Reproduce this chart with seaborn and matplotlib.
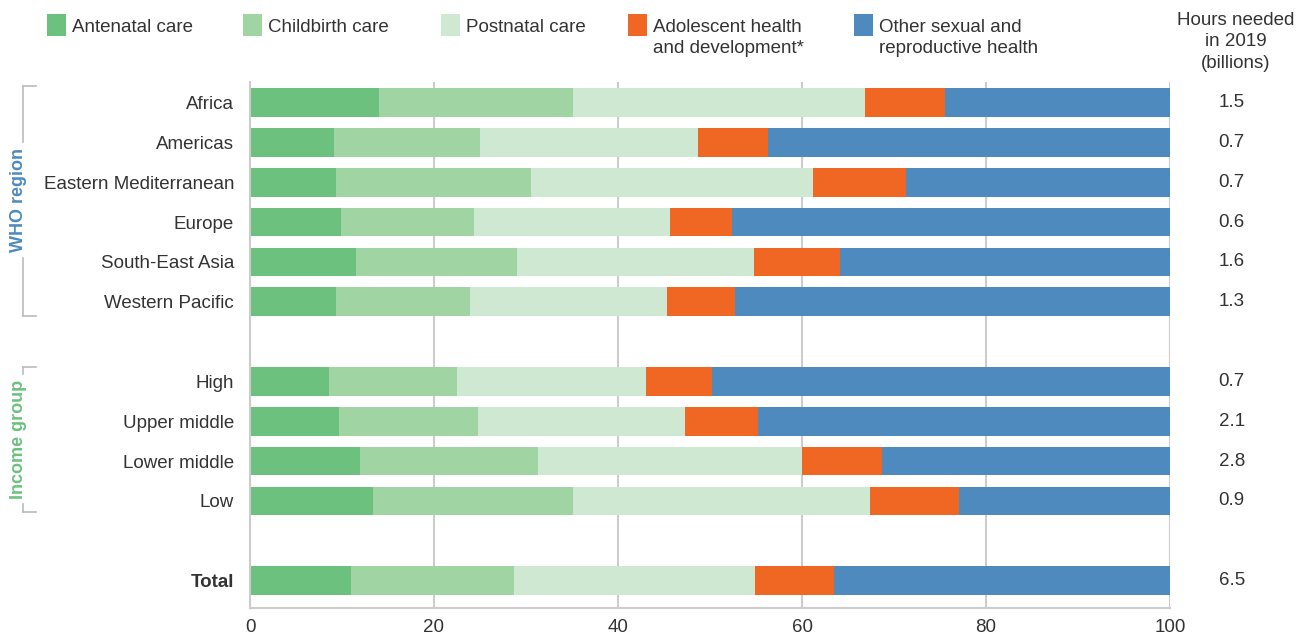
import matplotlib
matplotlib.use("Agg")
import matplotlib.pyplot as plt
import seaborn as sns
import pandas as pd
from matplotlib.patches import Rectangle
from matplotlib.lines import Line2D

# ---------------- data ----------------
regions = ["Africa", "Americas", "Eastern Mediterranean", "Europe",
           "South-East Asia", "Western Pacific"]
income = ["High", "Upper middle", "Lower middle", "Low"]
total = ["Total"]
categories = regions + income + total

antenatal = [14.0, 9.1, 9.4, 9.9, 11.5, 9.4, 8.6, 9.7, 12.0, 13.4, 11.0]
childbirth = [21.1, 15.9, 21.1, 14.5, 17.5, 14.5, 13.9, 15.1, 19.3, 21.7, 17.7]
postnatal = [31.7, 23.7, 30.7, 21.2, 25.8, 21.4, 20.5, 22.5, 28.7, 32.3, 26.2]
adolescent = [8.7, 7.6, 10.1, 6.8, 9.3, 7.4, 7.2, 7.9, 8.7, 9.7, 8.6]
other = [24.5, 43.7, 28.7, 47.6, 35.9, 47.3, 49.8, 44.8, 31.3, 22.9, 36.5]

hours = ["1.5", "0.7", "0.7", "0.6", "1.6", "1.3", "0.7", "2.1", "2.8", "0.9", "6.5"]

series_names = ["Antenatal care", "Childbirth care", "Postnatal care",
                "Adolescent health\nand development*",
                "Other sexual and\nreproductive health"]
colors = ["#6BC17D", "#A1D4A3", "#CFE8D1", "#F06623", "#4E8ABE"]
series = [antenatal, childbirth, postnatal, adolescent, other]

# ---------------- figure ----------------
plt.rcParams["font.family"] = ["Liberation Sans", "DejaVu Sans"]
TXT = "#333333"
W, H = 1298, 639
fig = plt.figure(figsize=(W / 100, H / 100), dpi=100)
ax = fig.add_axes([250 / W, 1 - 608 / H, 920 / W, (608 - 82) / H])

order = regions + [" "] + income + ["  "] + total

# cumulative ends
cum = []
running = [0.0] * len(categories)
for s in series:
    running = [r + v for r, v in zip(running, s)]
    cum.append(list(running))

for k in range(len(series) - 1, -1, -1):
    df = pd.DataFrame({"category": categories, "value": cum[k]})
    sns.barplot(data=df, x="value", y="category", order=order, orient="h",
                color=colors[k], saturation=1, width=0.72, errorbar=None,
                linewidth=0, ax=ax)

ax.set_xlim(0, 100)
ax.set_ylim(12.69, -0.515)
ax.set_xlabel("")
ax.set_ylabel("")
ax.set_xticks([0, 20, 40, 60, 80, 100])
ax.set_axisbelow(True)
ax.xaxis.grid(True, color="#CCCCCC", linewidth=1.5)
ax.yaxis.grid(False)
for sp in ["top", "right"]:
    ax.spines[sp].set_visible(False)
for sp in ["left", "bottom"]:
    ax.spines[sp].set_color("#CCCCCC")
    ax.spines[sp].set_linewidth(1.5)
ax.tick_params(axis="both", length=0, labelsize=13.5, labelcolor=TXT)
ax.tick_params(axis="x", pad=8)
ax.tick_params(axis="y", pad=11.5)
for lbl in ax.get_yticklabels():
    if lbl.get_text() == "Total":
        lbl.set_fontweight("bold")

# hours column
ytrans = ax.get_yaxis_transform()
for cat, h in zip(categories, hours):
    ax.text(1.067, order.index(cat), h, transform=ytrans, ha="center",
            va="center", fontsize=13.5, color=TXT)

fig.text(1236 / W, 1 - 42 / H, "Hours needed\nin 2019\n(billions)",
         ha="center", va="center", fontsize=13.5, color=TXT, linespacing=1.33)

# legend (manual)
def fx(x):
    return x / W

def fy(y):
    return 1 - y / H

sq_x = [47, 243, 441, 628, 854]
for x0, c, name in zip(sq_x, colors, series_names):
    fig.add_artist(Rectangle((fx(x0), fy(36)), 19 / W, 22 / H,
                             transform=fig.transFigure, color=c, lw=0))
    fig.text(fx(x0 + 25), fy(19), name, ha="left", va="top", fontsize=13.5,
             color=TXT, linespacing=1.3)

# group brackets
BR = "#BBBBBB"

def bracket(top, bottom, gap_top, gap_bot):
    x = 23
    segs = [((x, x), (top, gap_top)), ((x, x), (gap_bot, bottom)),
            ((x, 36), (top, top)), ((x, 36), (bottom, bottom))]
    for xs, ys in segs:
        fig.add_artist(Line2D([fx(v) for v in xs], [fy(v) for v in ys],
                              transform=fig.transFigure, color=BR, lw=1.2))

bracket(86, 316, 142, 258)
bracket(367, 512, 374, 504)
fig.text(fx(19), fy(200), "WHO region", rotation=90, ha="center", va="center",
         fontsize=13, fontweight="bold", color="#4E8ABE")
fig.text(fx(19), fy(439), "Income group", rotation=90, ha="center", va="center",
         fontsize=13, fontweight="bold", color="#6BC17D")

fig.savefig("out.png", dpi=100)
